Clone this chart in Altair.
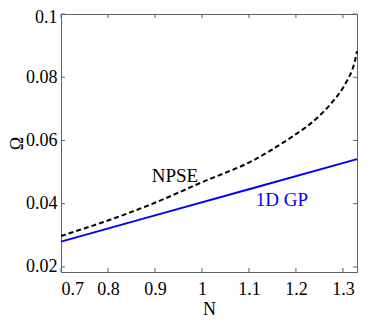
import altair as alt
import pandas as pd

# ---- data ----
N_gp = [0.70, 0.90, 1.10, 1.33]
omega_gp = [0.0280, 0.0363, 0.0446, 0.0541]

N_npse = [0.70, 0.75, 0.80, 0.85, 0.90, 0.95, 1.00, 1.05, 1.10, 1.15, 1.20,
          1.225, 1.25, 1.275, 1.30, 1.31, 1.32, 1.325, 1.33]
omega_npse = [0.0298, 0.0322, 0.0347, 0.0374, 0.0403, 0.0435, 0.0468, 0.0498,
              0.0530, 0.0572, 0.0620, 0.0646, 0.0678, 0.0717, 0.0766, 0.0792,
              0.0824, 0.0848, 0.0882]

x_ticks = [0.7, 0.8, 0.9, 1.0, 1.1, 1.2, 1.3]
y_ticks = [0.02, 0.04, 0.06, 0.08, 0.1]

label_text = ["NPSE", "1D GP"]
label_N = [0.9426, 1.170]
label_omega = [0.0489, 0.0412]
label_color = ["#000000", "#0000ff"]

W, H = 296, 258
FONT = "Liberation Serif"
AFONT = "'Liberation Serif', 'Times New Roman', serif"
AXC = "#606060"

gp = pd.DataFrame({"N": N_gp, "Omega": omega_gp})
npse = pd.DataFrame({"N": N_npse, "Omega": omega_npse})
xt = pd.DataFrame({"N": x_ticks})
yt = pd.DataFrame({"Omega": y_ticks})
labels = pd.DataFrame({"t": label_text, "N": label_N, "Omega": label_omega, "c": label_color})

xs = alt.Scale(domain=[0.7, 1.33], nice=False, zero=False)
ys = alt.Scale(domain=[0.0184, 0.1], nice=False, zero=False)

common = dict(ticks=False, grid=False, domainColor=AXC, labelFont=AFONT, titleFont=AFONT,
              labelFontSize=18, titleFontSize=18, labelColor="#000000",
              titleColor="#000000", titleFontWeight="normal", format="~g")
xaxis = alt.Axis(values=x_ticks, title="N", labelPadding=8, titlePadding=2, **common)
yaxis = alt.Axis(values=y_ticks, title="Ω", labelPadding=4,
                 titleX=-43.5, titleY=H / 2, titleAngle=-90, titleAlign="center",
                 titleBaseline="middle",
                 labelOffset={"condition": {"test": "datum.value >= 0.099", "value": 3}, "value": 0},
                 **common)


def X():
    return alt.X("N:Q", scale=xs, axis=xaxis)


def Y():
    return alt.Y("Omega:Q", scale=ys, axis=yaxis)


line_gp = alt.Chart(gp).mark_line(color="#0000ff", strokeWidth=2).encode(x=X(), y=Y())
line_npse = alt.Chart(npse).mark_line(color="#000000", strokeWidth=2, strokeDash=[5, 3],
                                      interpolate="monotone").encode(x=X(), y=Y())

txt = alt.Chart(labels).mark_text(font=FONT, fontSize=19).encode(
    x=X(), y=Y(), text="t:N", color=alt.Color("c:N", scale=None))

tl = 4
yl = alt.Chart(yt).mark_rule(color=AXC).encode(y=Y(), x=alt.value(0), x2=alt.value(tl))
yr = alt.Chart(yt).mark_rule(color=AXC).encode(y=Y(), x=alt.value(W - tl), x2=alt.value(W))
xb = alt.Chart(xt).mark_rule(color=AXC).encode(x=X(), y=alt.value(H - tl), y2=alt.value(H))
xtp = alt.Chart(xt).mark_rule(color=AXC).encode(x=X(), y=alt.value(0), y2=alt.value(tl))

chart = alt.layer(line_gp, line_npse, txt, yl, yr, xb, xtp).properties(
    width=W, height=H,
    autosize=alt.AutoSizeParams(type="none"),
    padding={"left": 53, "top": 6, "right": 17, "bottom": 47},
).configure(font=AFONT).configure_view(stroke=AXC, strokeWidth=1).configure_axis(
    labelFont=AFONT, titleFont=AFONT)

chart.save("out.html", embed_options={"renderer": "svg", "actions": False})
